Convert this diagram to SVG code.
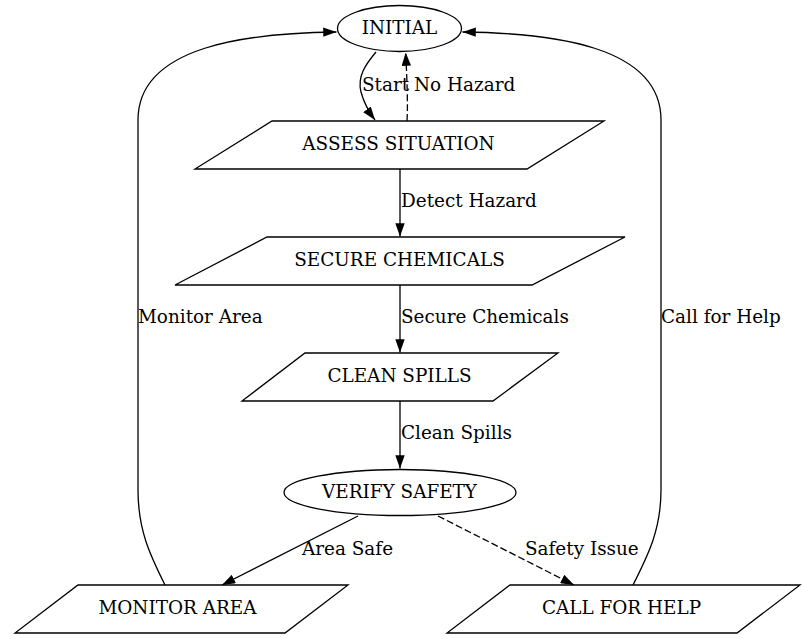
<svg xmlns="http://www.w3.org/2000/svg" width="802" height="639" viewBox="0 0 802 639">
<style>
.n{fill:#fff;stroke:#000;stroke-width:1.3}
.t{font-family:"DejaVu Serif",serif;font-size:18.4px;fill:#000}
.e{fill:none;stroke:#000;stroke-width:1.3}
.d{stroke-dasharray:7,3}
.m{text-anchor:middle}
</style>
<defs>
<marker id="a" viewBox="0 0 13.3 9.4" refX="13.3" refY="4.7" markerWidth="13.3" markerHeight="9.4" markerUnits="userSpaceOnUse" orient="auto">
<path d="M0,0L13.3,4.7L0,9.4z" fill="#000"/>
</marker>
</defs>
<rect width="802" height="639" fill="#fff"/>
<g id="connectors">
<path class="e" d="M376,52C366,64 357,76 361,92C364,103 369,112 375,120" marker-end="url(#a)"/>
<text class="t" x="362" y="91">Start</text>
<path class="e d" d="M407,121C408,105 407,80 405.7,52.5" marker-end="url(#a)"/>
<text class="t" x="414" y="91">No Hazard</text>
<path class="e" d="M400,169L400,236.5" marker-end="url(#a)"/>
<text class="t" x="401" y="207">Detect Hazard</text>
<path class="e" d="M400,285L400,352.5" marker-end="url(#a)"/>
<text class="t" x="401" y="323">Secure Chemicals</text>
<path class="e" d="M400,401L400,468.5" marker-end="url(#a)"/>
<text class="t" x="401" y="439">Clean Spills</text>
<path class="e" d="M358,516L222,585" marker-end="url(#a)"/>
<text class="t" x="302" y="555">Area Safe</text>
<path class="e d" d="M438,516L574,585" marker-end="url(#a)"/>
<text class="t" x="525" y="555">Safety Issue</text>
<path class="e" d="M165,585C150,555 138,530 138,490L138,120C138,45 250,33 336.5,32" marker-end="url(#a)"/>
<text class="t" x="138" y="323">Monitor Area</text>
<path class="e" d="M633,585C648,555 661,530 661,490L661,120C661,45 550,33 462.5,32" marker-end="url(#a)"/>
<text class="t" x="661" y="323">Call for Help</text>
</g>
<g id="initial">
<ellipse class="n" cx="399.5" cy="28.5" rx="62" ry="23"/>
<text class="t m" x="399.5" y="33.5">INITIAL</text>
</g>
<g id="assess">
<polygon class="n" points="272,121 604,121 527,169 195,169"/>
<text class="t m" x="398.5" y="150">ASSESS SITUATION</text>
</g>
<g id="secure">
<polygon class="n" points="267,237 625,237 532,285 175,285"/>
<text class="t m" x="399.5" y="266">SECURE CHEMICALS</text>
</g>
<g id="clean">
<polygon class="n" points="305,353 558,353 493,401 242,401"/>
<text class="t m" x="399.5" y="382">CLEAN SPILLS</text>
</g>
<g id="verify">
<ellipse class="n" cx="400" cy="492.5" rx="116" ry="23"/>
<text class="t m" x="399.5" y="498">VERIFY SAFETY</text>
</g>
<g id="monitor">
<polygon class="n" points="78,585 348,585 285,633 15,633"/>
<text class="t m" x="177.5" y="614">MONITOR AREA</text>
</g>
<g id="callhelp">
<polygon class="n" points="510,585 800,585 737,633 447,633"/>
<text class="t m" x="621.5" y="614">CALL FOR HELP</text>
</g>
</svg>
